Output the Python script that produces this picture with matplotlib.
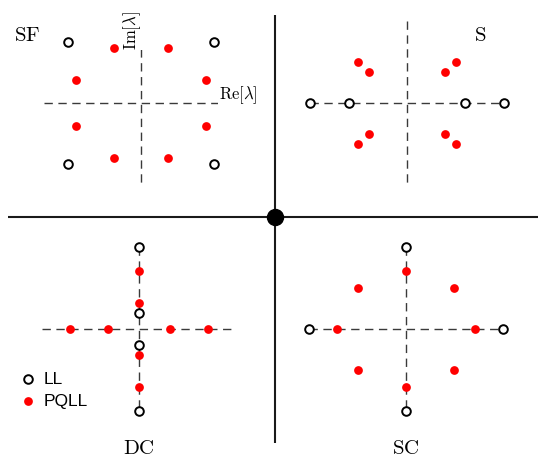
import matplotlib
matplotlib.use("Agg")
import matplotlib.pyplot as plt
import numpy as np

plt.rcParams['mathtext.fontset'] = 'cm'

# Panel names and their centres on the page (pixel-like units, y downward)
panels = ["SF", "S", "DC", "SC"]
centers = {"SF": (141, 104), "S": (407, 104), "DC": (139, 330), "SC": (406, 330)}

# Eigenvalue positions in each panel (local units: Re to the right, Im upward)
ll_re = {
    "SF": [-73, 73, -73, 73],
    "S": [-97, -58, 58, 97],
    "DC": [0, 0, 0, 0],
    "SC": [-97, 97, 0, 0],
}
ll_im = {
    "SF": [61, 61, -61, -61],
    "S": [0, 0, 0, 0],
    "DC": [82, 16, -16, -82],
    "SC": [0, 0, 82, -82],
}
pq_re = {
    "SF": [-27, 27, -65, 65, -65, 65, -27, 27],
    "S": [-49, -38, 38, 49, -49, -38, 38, 49],
    "DC": [0, 0, 0, 0, -69, -31, 31, 69],
    "SC": [0, 0, -69, 69, -48, 48, -48, 48],
}
pq_im = {
    "SF": [55, 55, 23, 23, -23, -23, -55, -55],
    "S": [41, 31, 31, 41, -41, -31, -31, -41],
    "DC": [58, 26, -26, -58, 0, 0, 0, 0],
    "SC": [58, -58, 0, 0, 41, 41, -41, -41],
}
half_re = 97
half_im = 82

label_pos = {"SF": (27, 35), "S": (480, 35), "DC": (139, 448), "SC": (406, 448)}

fig = plt.figure(figsize=(5.38, 4.6), dpi=100)
ax = fig.add_axes([0, 0, 1, 1])
ax.set_xlim(0, 538)
ax.set_ylim(460, 0)
ax.axis("off")

# Main cross
ax.plot([8, 538], [218, 218], color="#1a1a1a", lw=1.5, zorder=2, solid_capstyle="butt")
ax.plot([275, 275], [16, 444], color="#1a1a1a", lw=1.5, zorder=2, solid_capstyle="butt")
ax.plot([275], [218], "o", color="black", ms=11.5, zorder=3)

dash_col = "#3a3a3a"
for p in panels:
    cx, cy = centers[p]
    ax.plot([cx - half_re, cx + half_re], [cy, cy], color=dash_col, lw=1.0,
            dashes=(6, 4), zorder=2)
    ax.plot([cx, cx], [cy - half_im, cy + half_im], color=dash_col, lw=1.0,
            dashes=(6, 4), zorder=2)
    lx = cx + np.array(ll_re[p])
    ly = cy - np.array(ll_im[p])
    ax.plot(lx, ly, "o", ls="none", mfc="white", mec="black", ms=6.2, mew=1.4, zorder=4)
    px = cx + np.array(pq_re[p])
    py = cy - np.array(pq_im[p])
    ax.plot(px, py, "o", ls="none", color="#ff0000", ms=6.3, mew=0, zorder=5)
    tx, ty = label_pos[p]
    ax.text(tx, ty, r"$\mathrm{%s}$" % p, fontsize=15, ha="center", va="center", zorder=6)

ax.text(238, 95, r"$\mathrm{Re}[\lambda]$", fontsize=12, ha="center", va="center",
        zorder=6, bbox=dict(fc="white", ec="none", pad=0.5))
ax.text(132, 31, r"$\mathrm{Im}[\lambda]$", fontsize=12, ha="center", va="center",
        rotation=90, zorder=6, bbox=dict(fc="white", ec="none", pad=0.5))

# Legend
ax.plot([28], [380], "o", mfc="white", mec="black", ms=6.2, mew=1.4)
ax.plot([28], [402], "o", color="#ff0000", ms=6.3, mew=0)
ax.text(44, 380, "LL", fontsize=12.5, family="Liberation Sans", ha="left", va="center")
ax.text(44, 402, "PQLL", fontsize=12.5, family="Liberation Sans", ha="left", va="center")

fig.savefig("out.png", dpi=100)
